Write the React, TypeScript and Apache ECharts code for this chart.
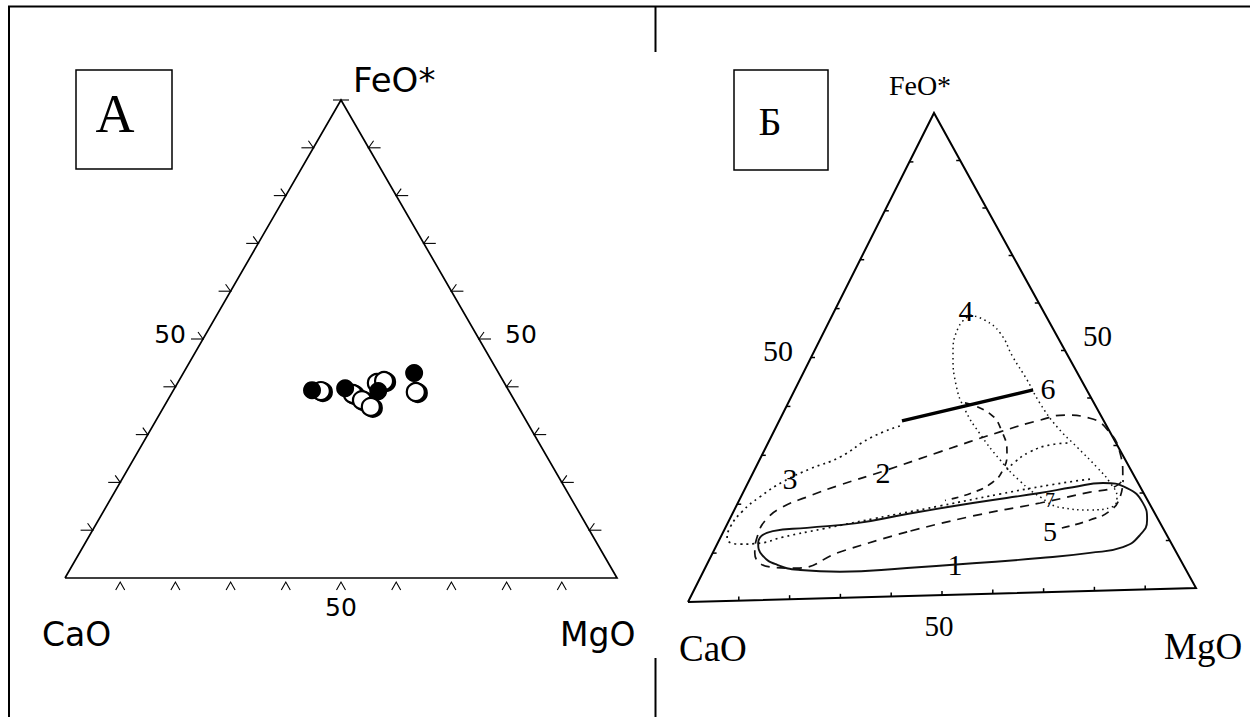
import React, { useEffect, useRef } from "react";
import * as echarts from "echarts";

// ---------- DATA (compositions as [CaO, MgO, FeO*], %) ----------
// Panel A: analysed samples
const samplesFilled = [
  [35.6, 25.1, 39.3],
  [29.4, 30.9, 39.7],
  [23.7, 37.2, 39.1],
  [15.3, 41.8, 42.9],
];
const samplesOpen = [
  [34.1, 26.8, 39.1],
  [28.6, 32.9, 38.5],
  [27.6, 35.2, 37.2],
  [26.7, 37.5, 35.8],
  [23.1, 36.1, 40.8],
  [21.6, 37.2, 41.2],
  [17.0, 44.1, 38.9],
];

// Panel Б: composition fields
const field1 = [
  [40.6, 53.0, 6.4], [53.9, 40.3, 5.8], [67.3, 27.3, 5.4], [74.8, 19.2, 6.0],
  [78.8, 14.1, 7.2], [80.6, 10.1, 9.3], [80.1, 8.1, 11.8], [75.9, 9.8, 14.2],
  [69.0, 16.3, 14.7], [58.8, 25.8, 15.4], [48.1, 34.9, 17.0], [34.2, 46.9, 18.9],
  [20.1, 59.3, 20.6], [13.1, 65.3, 21.6], [6.8, 70.9, 22.3], [2.7, 76.2, 21.1],
  [1.2, 80.9, 17.9], [2.2, 83.4, 14.4], [5.2, 83.5, 11.3], [9.8, 81.3, 8.9],
  [16.8, 75.3, 7.9], [27.0, 65.9, 7.1], [40.6, 53.0, 6.4],
];
const field2 = [
  [50.0, 36.7, 13.3], [65.2, 25.3, 9.5], [75.2, 18.3, 6.4], [80.4, 12.9, 6.8],
  [81.8, 8.4, 9.8], [79.3, 7.2, 13.5], [76.1, 7.3, 16.6], [71.4, 9.4, 19.2],
  [65.7, 13.2, 21.1], [58.0, 18.6, 23.4], [48.2, 25.8, 26.0], [35.1, 35.2, 29.7],
  [21.3, 45.2, 33.5], [12.3, 52.0, 35.7], [6.9, 56.5, 36.6], [2.4, 61.8, 35.8],
  [0.2, 66.6, 33.2], [0.3, 71.3, 28.4], [2.1, 74.1, 23.9], [5.1, 73.5, 21.4],
  [10.3, 69.2, 20.5], [21.1, 60.3, 18.5], [35.6, 48.2, 16.2], [50.0, 36.7, 13.3],
];
const field3 = [
  [40.1, 24.6, 35.3], [47.2, 19.9, 33.0], [55.0, 15.8, 29.2], [62.1, 11.0, 26.9],
  [68.7, 6.9, 24.4], [74.8, 3.8, 21.4], [79.9, 1.7, 18.4], [83.8, 0.9, 15.3],
  [85.6, 1.4, 13.0], [83.7, 4.6, 11.7], [79.7, 8.5, 11.8], [74.6, 12.4, 12.9],
  [66.0, 19.6, 14.4], [55.2, 28.6, 16.2], [40.9, 40.7, 18.5], [28.0, 51.4, 20.6],
  [17.3, 60.5, 22.2], [8.9, 67.9, 23.2],
];
const field4 = [
  [14.6, 27.5, 57.9], [12.3, 31.0, 56.8], [10.7, 35.3, 54.0], [10.8, 40.3, 48.9],
  [10.5, 45.4, 44.1], [10.5, 50.3, 39.2], [9.7, 56.1, 34.2], [8.0, 62.1, 29.9],
  [6.3, 68.1, 25.6], [5.4, 72.3, 22.3], [5.6, 75.1, 19.3], [7.6, 75.1, 17.3],
  [12.2, 71.0, 16.8], [17.4, 65.2, 17.4], [20.5, 59.7, 19.8], [22.7, 54.1, 23.2],
  [24.3, 48.0, 27.7], [25.4, 41.4, 33.2], [25.7, 36.0, 38.2], [24.8, 31.7, 43.5],
  [22.2, 28.1, 49.7], [18.3, 26.4, 55.3], [14.6, 27.5, 57.9],
];
const field5a = [
  [25.0, 35.3, 39.7], [21.3, 41.4, 37.3], [20.9, 45.6, 33.5], [22.2, 48.7, 29.1],
  [24.8, 49.6, 25.6], [28.3, 48.7, 23.0], [33.3, 45.7, 21.0], [39.3, 41.1, 19.6],
];
const field5b = [
  [19.6, 67.2, 13.2], [13.3, 72.0, 14.7], [8.4, 75.1, 16.5], [5.0, 75.7, 19.3], [2.6, 74.6, 22.8],
];
const field7 = [
  [24.0, 50.4, 25.6], [21.6, 51.2, 27.2], [17.6, 53.2, 29.2], [13.0, 56.5, 30.5], [8.9, 60.3, 30.8],
];
const line6 = [
  [39.1, 24.5, 36.3],
  [10.4, 47.6, 42.0],
];

const tickSteps = [10, 20, 30, 40, 50, 60, 70, 80, 90];
const midTickLabel = "50";
const apexLabel = "FeO*";
const leftLabel = "CaO";
const rightLabel = "MgO";

// ---------- LAYOUT ----------
type V = { ca: number[]; mg: number[]; fe: number[] };
const VERT_A: V = { ca: [65, 578], mg: [617, 578], fe: [341, 100] };
const VERT_B: V = { ca: [688, 602], mg: [1196, 588], fe: [934, 113] };

function proj(v: V, t: number[]) {
  const s = t[0] + t[1] + t[2];
  return [
    (v.ca[0] * t[0] + v.mg[0] * t[1] + v.fe[0] * t[2]) / s,
    (v.ca[1] * t[0] + v.mg[1] * t[1] + v.fe[1] * t[2]) / s,
  ];
}

const SANS = '"DejaVu Sans", Verdana, sans-serif';
const SERIF = '"Liberation Serif", "Times New Roman", serif';

function txt(text: string, x: number, y: number, size: number, family: string, align = "left", vAlign = "middle") {
  return {
    type: "text",
    silent: true,
    style: {
      text, x, y,
      font: `${size}px ${family}`,
      fill: "#000",
      align, verticalAlign: vAlign,
      textAlign: align, textVerticalAlign: vAlign,
    },
  };
}

function buildOption() {
  const frameA = [VERT_A.ca, VERT_A.mg, VERT_A.fe, VERT_A.ca].map((p) => p.slice());
  const frameB = [VERT_B.ca, VERT_B.mg, VERT_B.fe, VERT_B.ca].map((p) => p.slice());

  // ticks panel A
  const ticksA: any[] = [];
  tickSteps.forEach((f) => {
    const [lx, ly] = proj(VERT_A, [100 - f, 0, f]);
    ticksA.push({ coords: [[lx - 12, ly], [lx + 1, ly]] });
    ticksA.push({ coords: [[lx - 5, ly - 7], [lx, ly]] });
    const [rx, ry] = proj(VERT_A, [0, 100 - f, f]);
    ticksA.push({ coords: [[rx - 1, ry], [rx + 12, ry]] });
    ticksA.push({ coords: [[rx + 5, ry - 7], [rx, ry]] });
    const [bx, by] = proj(VERT_A, [100 - f, f, 0]);
    ticksA.push({ coords: [[bx - 4.5, by + 12], [bx, by + 4], [bx + 4.5, by + 12]] });
  });
  const [ax, ay] = proj(VERT_A, [0, 0, 100]);
  ticksA.push({ coords: [[ax - 8, ay], [ax + 8, ay]] });

  // ticks panel B
  const ticksB: any[] = [];
  tickSteps.forEach((f) => {
    const [lx, ly] = proj(VERT_B, [100 - f, 0, f]);
    ticksB.push({ coords: [[lx, ly], [lx + 4, ly]] });
    const [rx, ry] = proj(VERT_B, [0, 100 - f, f]);
    ticksB.push({ coords: [[rx, ry], [rx - 4, ry]] });
    const [bx, by] = proj(VERT_B, [100 - f, f, 0]);
    ticksB.push({ coords: [[bx, by], [bx, by - 4]] });
  });

  const curve = (data: number[][], lineStyle: any, smooth = 0.5) => ({
    type: "line",
    data: data.map((t) => proj(VERT_B, t)),
    smooth,
    symbol: "none",
    silent: true,
    lineStyle: { color: "#111", ...lineStyle },
    z: 3,
  });

  const [l50Ax, l50Ay] = proj(VERT_A, [50, 0, 50]);
  const [r50Ax, r50Ay] = proj(VERT_A, [0, 50, 50]);
  const [b50Ax] = proj(VERT_A, [50, 50, 0]);

  return {
    animation: false,
    backgroundColor: "#fff",
    grid: { left: 0, right: 0, top: 0, bottom: 0 },
    xAxis: { type: "value", min: 0, max: 1250, show: false },
    yAxis: { type: "value", min: 0, max: 717, inverse: true, show: false },
    series: [
      {
        type: "lines", coordinateSystem: "cartesian2d", polyline: true, silent: true,
        data: [{ coords: frameA }],
        lineStyle: { color: "#000", width: 1.7, opacity: 1 },
      },
      {
        type: "lines", coordinateSystem: "cartesian2d", polyline: true, silent: true,
        data: ticksA,
        lineStyle: { color: "#000", width: 1.1, opacity: 1 },
      },
      {
        type: "lines", coordinateSystem: "cartesian2d", polyline: true, silent: true,
        data: [{ coords: frameB }],
        lineStyle: { color: "#000", width: 2, opacity: 1 },
      },
      {
        type: "lines", coordinateSystem: "cartesian2d", polyline: true, silent: true,
        data: ticksB,
        lineStyle: { color: "#000", width: 1.5, opacity: 1 },
      },
      {
        type: "scatter", silent: true, symbol: "circle", symbolSize: 18,
        data: samplesOpen.map((t) => proj(VERT_A, t)),
        itemStyle: {
          color: "#fff", borderColor: "#000", borderWidth: 2.2, opacity: 1,
          shadowColor: "#000", shadowOffsetX: 2, shadowOffsetY: 1, shadowBlur: 1,
        },
        z: 4,
      },
      {
        type: "scatter", silent: true, symbol: "circle", symbolSize: 18,
        data: samplesFilled.map((t) => proj(VERT_A, t)),
        itemStyle: { color: "#000", opacity: 1 },
        z: 5,
      },
      curve(field1, { width: 1.9, type: "solid" }),
      curve(field2, { width: 1.7, type: [9, 7] }),
      curve(field3, { width: 1.7, type: [2, 4] }),
      curve(field4, { width: 1.5, type: [1.5, 3.5] }),
      curve(field5a, { width: 1.7, type: [7, 6] }),
      curve(field5b, { width: 1.7, type: [8, 6] }),
      curve(field7, { width: 1.6, type: [2, 4] }),
      {
        type: "lines", coordinateSystem: "cartesian2d", polyline: true, silent: true,
        data: [{ coords: line6.map((t) => proj(VERT_B, t)) }],
        lineStyle: { color: "#000", width: 3.4, opacity: 1 },
        z: 4,
      },
    ],
    graphic: {
      elements: [
        // table borders
        { type: "line", silent: true, shape: { x1: 8, y1: 6.5, x2: 1250, y2: 6.5 }, style: { stroke: "#000", lineWidth: 2 } },
        { type: "line", silent: true, shape: { x1: 9, y1: 6, x2: 9, y2: 717 }, style: { stroke: "#000", lineWidth: 2 } },
        { type: "line", silent: true, shape: { x1: 655.5, y1: 6, x2: 655.5, y2: 52 }, style: { stroke: "#000", lineWidth: 2 } },
        { type: "line", silent: true, shape: { x1: 655.5, y1: 658, x2: 655.5, y2: 717 }, style: { stroke: "#000", lineWidth: 2 } },
        // panel boxes
        { type: "rect", silent: true, shape: { x: 76, y: 70, width: 96, height: 99 }, style: { fill: "#fff", stroke: "#000", lineWidth: 1.5 } },
        { type: "rect", silent: true, shape: { x: 734, y: 70, width: 94, height: 100 }, style: { fill: "#fff", stroke: "#000", lineWidth: 1.5 } },
        txt("А", 115, 114, 54, SERIF, "center"),
        txt("Б", 770, 121, 40, SERIF, "center"),
        // panel A labels
        txt(apexLabel, 353, 80, 34, SANS),
        txt(leftLabel, 42, 634, 33, SANS),
        txt(rightLabel, 560, 634, 33, SANS),
        txt(midTickLabel, b50Ax, 607, 25, SANS, "center"),
        txt(midTickLabel, l50Ax - 17, l50Ay - 5, 25, SANS, "right"),
        txt(midTickLabel, r50Ax + 26, r50Ay - 5, 25, SANS, "left"),
        // panel B labels
        txt(apexLabel, 920, 85, 28, SERIF, "center"),
        txt(leftLabel, 679, 648, 37, SERIF),
        txt(rightLabel, 1164, 646, 37, SERIF),
        txt(midTickLabel, 939, 626, 29, SERIF, "center"),
        txt(midTickLabel, 763, 350, 30, SERIF),
        txt(midTickLabel, 1083, 336, 29, SERIF),
        // field numbers
        txt("1", 955, 564, 30, SERIF, "center"),
        txt("2", 883, 472, 30, SERIF, "center"),
        txt("3", 790, 478, 30, SERIF, "center"),
        txt("4", 966, 310, 30, SERIF, "center"),
        txt("5", 1050, 531, 28, SERIF, "center"),
        txt("6", 1048, 388, 30, SERIF, "center"),
        txt("7", 1050, 500, 20, SERIF, "center"),
      ],
    },
  };
}

export default function App() {
  const ref = useRef<HTMLDivElement>(null);
  useEffect(() => {
    const chart = echarts.init(ref.current as HTMLDivElement, null, { renderer: "svg" });
    chart.setOption(buildOption() as any);
    return () => chart.dispose();
  }, []);
  return (
    <div
      ref={ref}
      style={{ position: "fixed", left: 0, top: 0, width: 1250, height: 717, background: "#fff" }}
    />
  );
}
